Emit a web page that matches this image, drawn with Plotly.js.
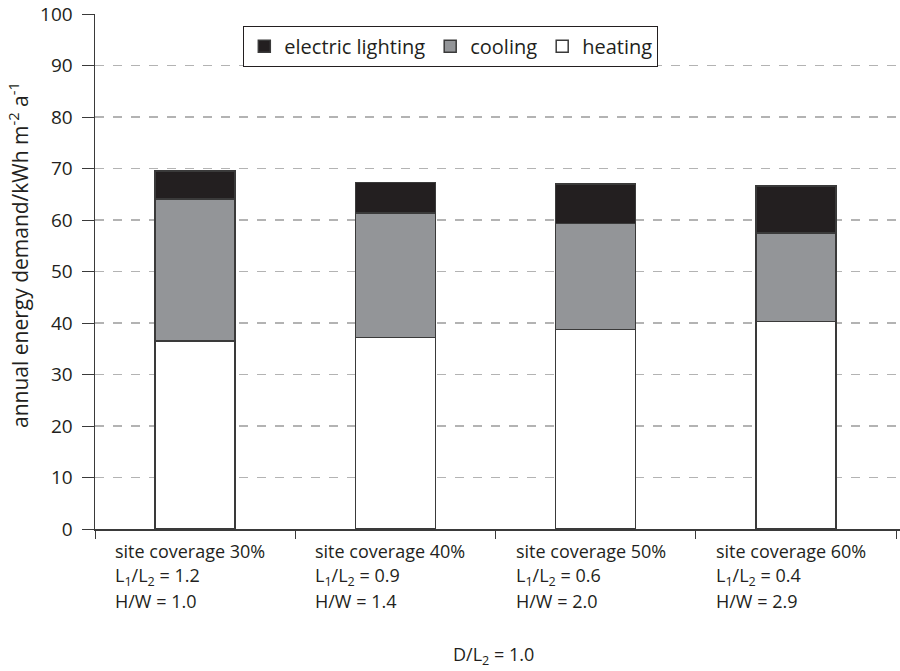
<!DOCTYPE html>
<html>
<head>
<meta charset="utf-8">
<script src="https://cdn.plot.ly/plotly-3.0.1.min.js"></script>
<style>html,body{margin:0;padding:0;background:#fff;}#chart{width:900px;height:671px;}</style>
</head>
<body>
<div id="chart"></div>
<script>
const categories = ["site coverage 30%", "site coverage 40%", "site coverage 50%", "site coverage 60%"];
const ratioLabels = ["L<sub>1</sub>/L<sub>2</sub> = 1.2", "L<sub>1</sub>/L<sub>2</sub> = 0.9", "L<sub>1</sub>/L<sub>2</sub> = 0.6", "L<sub>1</sub>/L<sub>2</sub> = 0.4"];
const hwLabels = ["H/W = 1.0", "H/W = 1.4", "H/W = 2.0", "H/W = 2.9"];
const heating = [36.5, 37.2, 38.7, 40.3];
const cooling = [27.6, 24.2, 20.6, 17.2];
const lighting = [5.4, 5.9, 7.7, 9.1];
const yTicks = [0, 10, 20, 30, 40, 50, 60, 70, 80, 90, 100];
const yTitle = "annual energy demand/kWh m<sup>-2</sup> a<sup>-1</sup>";
const footLabel = "D/L<sub>2</sub> = 1.0";

const FONT = "'Open Sans', 'Noto Sans', sans-serif";
const DARK = "#231f20";
const barLine = {color: "#3a3a3a", width: 1.5};

const traces = [
  {type: "bar", name: "heating", x: categories, y: heating, width: 0.4,
   marker: {color: "#ffffff", line: barLine}},
  {type: "bar", name: "cooling", x: categories, y: cooling, width: 0.4,
   marker: {color: "#939598", line: barLine}},
  {type: "bar", name: "electric lighting", x: categories, y: lighting, width: 0.4,
   marker: {color: DARK, line: barLine}}
];

const annotations = [];
categories.forEach((c, i) => {
  [c, ratioLabels[i], hwLabels[i]].forEach((t, j) => {
    annotations.push({
      text: t, x: c, xref: "x", xanchor: "left", xshift: -82,
      y: 0, yref: "paper", yanchor: "middle", yshift: -22 - j * 25,
      showarrow: false, align: "left",
      font: {family: FONT, size: 18, color: DARK}
    });
  });
});
annotations.push({
  text: footLabel, x: 0.495, xref: "paper", xanchor: "center",
  y: 0, yref: "paper", yanchor: "middle", yshift: -126,
  showarrow: false, font: {family: FONT, size: 18, color: DARK}
});
annotations.push({
  text: yTitle, textangle: -90, x: 0, xref: "paper", xanchor: "center", xshift: -77,
  y: 0.532, yref: "paper", yanchor: "middle",
  showarrow: false, font: {family: FONT, size: 21, color: DARK}
});

const layout = {
  width: 900, height: 671,
  margin: {l: 95, r: 0, t: 14, b: 142},
  paper_bgcolor: "#ffffff", plot_bgcolor: "#ffffff",
  barmode: "stack",
  font: {family: FONT, size: 17, color: DARK},
  showlegend: true,
  legend: {
    orientation: "h", traceorder: "reversed",
    x: 0.442, xanchor: "center", y: 0.977, yanchor: "top",
    bgcolor: "#ffffff", bordercolor: DARK, borderwidth: 1,
    font: {family: FONT, size: 20, color: DARK},
    itemwidth: 30
  },
  xaxis: {
    type: "category", range: [-0.5, 3.52],
    showticklabels: false, tickson: "boundaries",
    ticks: "outside", ticklen: 8, tickwidth: 1, tickcolor: "#3a3a3a",
    showline: true, linecolor: "#3a3a3a", linewidth: 1.5,
    showgrid: false, zeroline: false, fixedrange: true
  },
  yaxis: {
    range: [0, 100], tickvals: yTicks, ticktext: yTicks.map(String),
    ticks: "outside", ticklen: 12, tickwidth: 1, tickcolor: "#3a3a3a",
    ticklabelstandoff: 5,
    showline: true, linecolor: "#3a3a3a", linewidth: 1.5,
    showgrid: true, gridcolor: "#b3b3b3", gridwidth: 1.5, griddash: "dash",
    zeroline: false,
    tickfont: {family: FONT, size: 19, color: DARK}
  },
  annotations: annotations
};

Plotly.newPlot("chart", traces, layout, {staticPlot: true, displayModeBar: false});
</script>
</body>
</html>
